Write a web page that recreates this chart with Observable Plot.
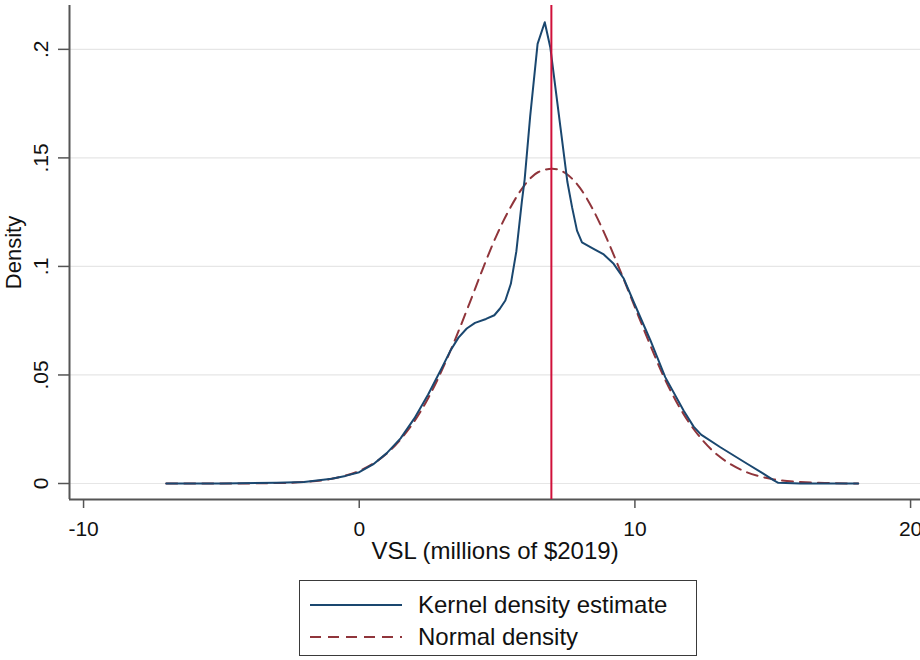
<!DOCTYPE html>
<html><head><meta charset="utf-8">
<script src="https://cdn.jsdelivr.net/npm/d3@7"></script>
<script src="https://cdn.jsdelivr.net/npm/@observablehq/plot@0.6"></script>
<style>
html,body{margin:0;padding:0;background:#fff;}
#wrap{position:relative;width:920px;height:660px;overflow:hidden;font-family:"Liberation Sans",Arial,sans-serif;}
#legend{position:absolute;left:299px;top:580px;width:398px;height:76px;border:1.5px solid #3a3a3a;box-sizing:border-box;background:#fff;}
.row{position:absolute;left:0;height:30px;display:flex;align-items:center;font-size:24px;color:#111;white-space:nowrap;}
.row svg{margin-left:10px;margin-right:16px;}
</style></head><body>
<div id="wrap"><div id="chart"></div><div id="legend"></div></div>
<script>
// Kernel density estimate (x in millions of $2019, density)
const kdeX = [-7, -5, -3, -2, -1, -0.5, 0, 0.5, 1, 1.5, 2, 2.5, 3, 3.3, 3.6, 3.9, 4.2, 4.6, 4.9, 5.1, 5.3, 5.5, 5.7, 5.9, 6.0, 6.2, 6.47, 6.73, 6.93, 7.3, 7.55, 7.72, 7.9, 8.08, 8.5, 8.87, 9.23, 9.6, 9.96, 10.56, 11.1, 11.77, 12.13, 12.4, 13.1, 14.07, 14.6, 15.04, 15.2, 16, 18.1];
const kdeY = [0, 0, 0.0003, 0.0007, 0.0022, 0.0035, 0.0052, 0.0088, 0.0140, 0.0208, 0.0300, 0.0410, 0.0533, 0.0610, 0.0672, 0.0714, 0.0740, 0.0758, 0.0775, 0.0805, 0.0843, 0.0920, 0.1070, 0.1300, 0.1400, 0.1690, 0.2025, 0.2125, 0.2010, 0.1640, 0.1390, 0.1273, 0.1165, 0.1111, 0.1081, 0.1055, 0.1012, 0.0943, 0.0835, 0.0660, 0.0490, 0.0335, 0.0262, 0.0225, 0.0167, 0.0091, 0.0050, 0.0014, 0.0003, 0, 0];
// Normal density
const normX = [-7, -5, -3, -2, -1, 0, 0.5, 1, 1.5, 2, 2.5, 3, 3.5, 4, 4.5, 5, 5.5, 6, 6.5, 7, 7.5, 8, 8.5, 9, 9.5, 10, 10.5, 11, 11.5, 12, 12.5, 13, 13.5, 14, 14.5, 15, 16, 17, 18.1];
const normY = [0, 0, 0.0002, 0.0007, 0.0022, 0.0058, 0.0091, 0.0138, 0.0203, 0.0287, 0.0393, 0.0522, 0.0670, 0.0830, 0.0995, 0.1148, 0.1275, 0.1375, 0.1435, 0.1450, 0.1428, 0.1363, 0.1257, 0.1122, 0.0970, 0.0812, 0.0655, 0.0505, 0.0378, 0.0274, 0.0193, 0.0131, 0.0087, 0.0055, 0.0034, 0.0020, 0.0007, 0.0002, 0];
const meanVSL = [6.97];
const xTicks = [-10, 0, 10, 20];
const xTickLabels = ["-10", "0", "10", "20"];
const yTicks = [0, 0.05, 0.1, 0.15, 0.2];
const yTickLabels = ["0", ".05", ".1", ".15", ".2"];
const xTitle = "VSL (millions of $2019)";
const yTitle = "Density";
const legendLabels = ["Kernel density estimate", "Normal density"];

const colKde = "#1a476f", colNorm = "#90353b", colMean = "#d0103a";
const font = "'Liberation Sans', Arial, sans-serif";
const xDomain = [-10.51, 20.36];
const yDomain = [-0.00737, 0.2202];

const kde = kdeX.map((x, i) => ({x, y: kdeY[i]}));
const norm = normX.map((x, i) => ({x, y: normY[i]}));

const chart = Plot.plot({
  width: 920, height: 570,
  marginLeft: 69, marginRight: 0, marginTop: 5, marginBottom: 71,
  style: {fontFamily: font, fontSize: "21px", color: "#111", background: "white"},
  x: {domain: xDomain},
  y: {domain: yDomain},
  marks: [
    Plot.gridY(yTicks, {stroke: "#e6e6e6", strokeOpacity: 1, strokeWidth: 1.2}),
    Plot.ruleX([xDomain[0]], {stroke: "#555", strokeWidth: 2}),
    Plot.ruleY([yDomain[0]], {stroke: "#555", strokeWidth: 2}),
    Plot.axisX(xTicks, {tickSize: 9, tickPadding: 13, fontSize: 21, stroke: "#555", strokeWidth: 1.5,
      tickFormat: d => xTickLabels[xTicks.indexOf(d)], label: null}),
    Plot.axisY(yTicks, {tickSize: 11, tickRotate: -90, tickPadding: 10.5, fontSize: 21, stroke: "#555", strokeWidth: 1.5,
      tickFormat: d => yTickLabels[yTicks.indexOf(d)], label: null}),
    Plot.text([xTitle], {frameAnchor: "bottom", dy: 59, lineAnchor: "bottom", textAnchor: "middle", fontSize: 24, fill: "#111"}),
    Plot.text([yTitle], {frameAnchor: "left", dx: -64, rotate: -90, lineAnchor: "top", textAnchor: "middle", fontSize: 22, fill: "#111"}),
    Plot.line(norm, {x: "x", y: "y", stroke: colNorm, strokeWidth: 2, strokeDasharray: "11,7", curve: "monotone-x"}),
    Plot.line(kde, {x: "x", y: "y", stroke: colKde, strokeWidth: 2, curve: "linear"}),
    Plot.ruleX(meanVSL, {stroke: colMean, strokeWidth: 2})
  ]
});
document.getElementById("chart").appendChild(chart);

// Legend below the chart
const legend = document.getElementById("legend");
const styles = [{stroke: colKde, dash: null}, {stroke: colNorm, dash: "11,7"}];
legendLabels.forEach((lab, i) => {
  const row = document.createElement("div");
  row.className = "row";
  row.style.top = (9 + i * 32) + "px";
  const ns = "http://www.w3.org/2000/svg";
  const svg = document.createElementNS(ns, "svg");
  svg.setAttribute("width", 92); svg.setAttribute("height", 10);
  const ln = document.createElementNS(ns, "line");
  ln.setAttribute("x1", 0); ln.setAttribute("x2", 92); ln.setAttribute("y1", 5); ln.setAttribute("y2", 5);
  ln.setAttribute("stroke", styles[i].stroke); ln.setAttribute("stroke-width", 2);
  if (styles[i].dash) ln.setAttribute("stroke-dasharray", styles[i].dash);
  svg.appendChild(ln);
  row.appendChild(svg);
  const t = document.createElement("span");
  t.textContent = lab;
  row.appendChild(t);
  legend.appendChild(row);
});
</script>
</body></html>
